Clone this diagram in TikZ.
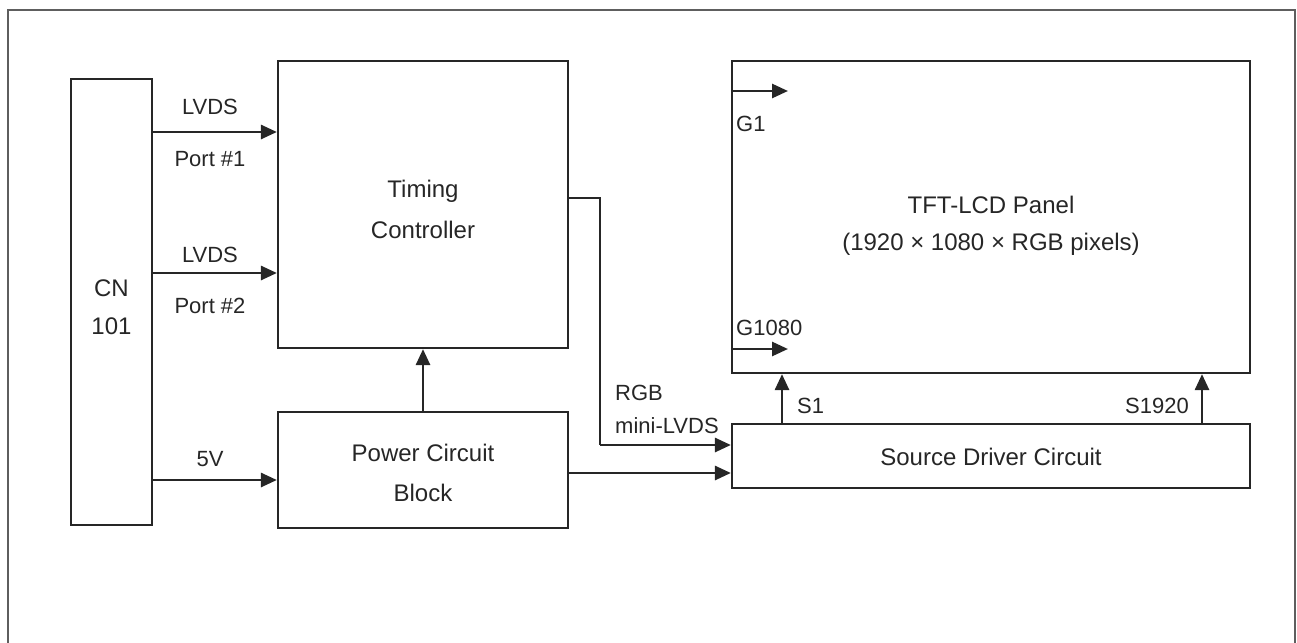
\documentclass[tikz,border=0pt]{standalone}
\usepackage{fontspec}
\setmainfont{Liberation Sans}
\usetikzlibrary{arrows.meta}
\definecolor{ink}{HTML}{262626}
\definecolor{frame}{HTML}{5E5E5E}
\tikzset{
  blk/.style={draw=ink, line width=2.2pt, inner sep=0pt},
  arr/.style={draw=ink, line width=2.8pt, -{Triangle[length=16pt,width=14pt]}},
  wire/.style={draw=ink, line width=2.4pt},
  lbl/.style={text=ink, inner sep=0pt, font=\fontsize{22}{26}\selectfont},
  btxt/.style={text=ink, inner sep=0pt, font=\fontsize{24}{28}\selectfont},
}
\begin{document}
\begin{tikzpicture}[x=1pt,y=-1pt]
\useasboundingbox (0,0) rectangle (1297,642);
% outer frame (open at bottom)
\draw[frame, line width=2.4pt] (8,650) -- (8,10) -- (1295,10) -- (1295,650);

% boxes
\node[blk, minimum width=81pt, minimum height=446pt] (cn) at (111.5,302) {};
\node[blk, minimum width=290pt, minimum height=287pt] (tc) at (423,204.5) {};
\node[blk, minimum width=290pt, minimum height=116pt] (pw) at (423,470) {};
\node[blk, minimum width=518pt, minimum height=312pt] (tft) at (991,217) {};
\node[blk, minimum width=518pt, minimum height=64pt] (sd) at (991,456) {};

% box texts (anchor=base, baseline = cap centre + 8.6)
\node[btxt, anchor=base] (cnA) at (111.5,296) {CN};
\node[btxt, anchor=base] (cnB) at (111.5,334) {101};
\node[btxt, anchor=base] (tcA) at (423,197) {Timing};
\node[btxt, anchor=base] (tcB) at (423,238) {Controller};
\node[btxt, anchor=base] (pwA) at (423,461) {Power Circuit};
\node[btxt, anchor=base] (pwB) at (423,501) {Block};
\node[btxt, anchor=base] (tftA) at (991,213) {TFT-LCD Panel};
\node[btxt, anchor=base] (tftB) at (991,250) {(1920 × 1080 × RGB pixels)};
\node[btxt, anchor=base] (sdA) at (991,465) {Source Driver Circuit};

% inputs
\draw[arr] (cn.east |- 0,132) -- (tc.west |- 0,132);
\draw[arr] (cn.east |- 0,273) -- (tc.west |- 0,273);
\draw[arr] (cn.east |- 0,480) -- (pw.west |- 0,480);
\node[lbl, anchor=base] (l1) at (210,114) {LVDS};
\node[lbl, anchor=base] (p1) at (210,166) {Port \#1};
\node[lbl, anchor=base] (l2) at (210,262) {LVDS};
\node[lbl, anchor=base] (p2) at (210,313) {Port \#2};
\node[lbl, anchor=base] (v5) at (210,466) {5V};

% power to timing
\draw[arr] (pw.north) -- (tc.south);

% timing to source driver
\coordinate (b1) at (600,198);
\coordinate (b2) at (600,445);
\draw[wire] (tc.east |- b1) -- (b1) -- (b2);
\draw[arr] (b2) -- (sd.west |- b2);
\node[lbl, anchor=base west] (rgb) at (615,400) {RGB};
\node[lbl, anchor=base west] (mlv) at (615,433) {mini-LVDS};

% power to source driver
\draw[arr] (pw.east |- 0,473) -- (sd.west |- 0,473);

% gate lines
\coordinate (g1e) at (788,91);
\coordinate (g2e) at (788,349);
\draw[arr] (tft.west |- g1e) -- (g1e);
\draw[arr] (tft.west |- g2e) -- (g2e);
\node[lbl, anchor=base west] (g1) at (736,131) {G1};
\node[lbl, anchor=base west] (g1080) at (736,335) {G1080};

% source lines
\draw[arr] (sd.north -| 782,0) -- (tft.south -| 782,0);
\draw[arr] (sd.north -| 1202,0) -- (tft.south -| 1202,0);
\node[lbl, anchor=base west] (s1) at (797,413) {S1};
\node[lbl, anchor=base east] (s1920) at (1189,413) {S1920};
\end{tikzpicture}
\end{document}
